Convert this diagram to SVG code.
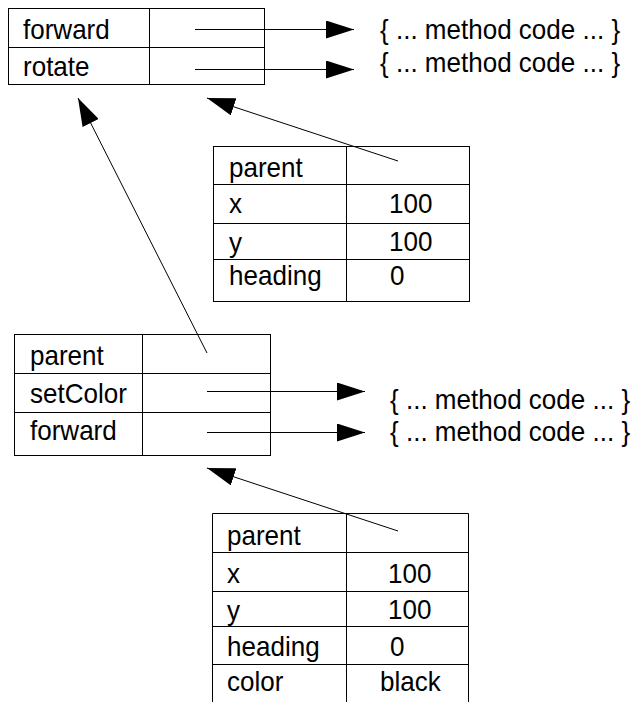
<svg xmlns="http://www.w3.org/2000/svg" width="643" height="702" viewBox="0 0 643 702">
  <defs>
    <style>
      .cell { fill: #fff; stroke: #000; stroke-width: 1; }
      .rule { stroke: #000; stroke-width: 1; fill: none; }
      .lbl { font-family: "Liberation Sans", Arial, sans-serif; font-size: 28px; fill: #000; }
      .link { stroke: #000; stroke-width: 1; fill: none; marker-end: url(#head); }
    </style>
    <marker id="head" markerUnits="userSpaceOnUse" markerWidth="28" markerHeight="18" viewBox="0 0 28 18" refX="28" refY="9" orient="auto">
      <path d="M0,0 L28,9 L0,18 Z" fill="#000"/>
    </marker>
  </defs>
  <rect width="643" height="702" fill="#fff"/>

  <!-- shared prototype: forward / rotate -->
  <g id="proto">
    <rect class="cell" x="8.5" y="8.5" width="256" height="76"/>
    <line class="rule" x1="149.5" y1="8.5" x2="149.5" y2="84.5"/>
    <line class="rule" x1="8.5" y1="47.5" x2="264.5" y2="47.5"/>
    <text class="lbl" transform="translate(23 39) scale(0.93 1)">forward</text>
    <text class="lbl" transform="translate(23 76) scale(0.93 1)">rotate</text>
  </g>

  <!-- first turtle instance -->
  <g id="turtle">
    <rect class="cell" x="213.5" y="146.5" width="256" height="155"/>
    <line class="rule" x1="346.5" y1="146.5" x2="346.5" y2="301.5"/>
    <line class="rule" x1="213.5" y1="184.5" x2="469.5" y2="184.5"/>
    <line class="rule" x1="213.5" y1="223.5" x2="469.5" y2="223.5"/>
    <line class="rule" x1="213.5" y1="259.5" x2="469.5" y2="259.5"/>
    <text class="lbl" transform="translate(229 177) scale(0.93 1)">parent</text>
    <text class="lbl" transform="translate(229 213) scale(0.93 1)">x</text>
    <text class="lbl" transform="translate(389 213) scale(0.93 1)">100</text>
    <text class="lbl" transform="translate(229 252) scale(0.93 1)">y</text>
    <text class="lbl" transform="translate(389 251) scale(0.93 1)">100</text>
    <text class="lbl" transform="translate(229 285) scale(0.93 1)">heading</text>
    <text class="lbl" transform="translate(390 285) scale(0.93 1)">0</text>
  </g>

  <!-- derived prototype: parent / setColor / forward -->
  <g id="colorProto">
    <rect class="cell" x="14.5" y="334.5" width="256" height="121"/>
    <line class="rule" x1="142.5" y1="334.5" x2="142.5" y2="455.5"/>
    <line class="rule" x1="14.5" y1="373.5" x2="270.5" y2="373.5"/>
    <line class="rule" x1="14.5" y1="412.5" x2="270.5" y2="412.5"/>
    <text class="lbl" transform="translate(30 365) scale(0.93 1)">parent</text>
    <text class="lbl" transform="translate(30 403) scale(0.93 1)">setColor</text>
    <text class="lbl" transform="translate(30 440) scale(0.93 1)">forward</text>
  </g>

  <!-- coloured turtle instance (open at the bottom) -->
  <g id="colorTurtle">
    <line class="rule" x1="212.5" y1="513.5" x2="468.5" y2="513.5"/>
    <line class="rule" x1="212.5" y1="513.5" x2="212.5" y2="702"/>
    <line class="rule" x1="346.5" y1="513.5" x2="346.5" y2="702"/>
    <line class="rule" x1="468.5" y1="513.5" x2="468.5" y2="702"/>
    <line class="rule" x1="212.5" y1="552.5" x2="468.5" y2="552.5"/>
    <line class="rule" x1="212.5" y1="591.5" x2="468.5" y2="591.5"/>
    <line class="rule" x1="212.5" y1="626.5" x2="468.5" y2="626.5"/>
    <line class="rule" x1="212.5" y1="664.5" x2="468.5" y2="664.5"/>
    <text class="lbl" transform="translate(227 545) scale(0.93 1)">parent</text>
    <text class="lbl" transform="translate(227 583) scale(0.93 1)">x</text>
    <text class="lbl" transform="translate(388 583) scale(0.93 1)">100</text>
    <text class="lbl" transform="translate(227 620) scale(0.93 1)">y</text>
    <text class="lbl" transform="translate(388 619) scale(0.93 1)">100</text>
    <text class="lbl" transform="translate(227 656) scale(0.93 1)">heading</text>
    <text class="lbl" transform="translate(390 656) scale(0.93 1)">0</text>
    <text class="lbl" transform="translate(227 691) scale(0.93 1)">color</text>
    <text class="lbl" transform="translate(380 691) scale(0.93 1)">black</text>
  </g>

  <!-- method bodies -->
  <g id="code">
    <text class="lbl" transform="translate(380 39) scale(0.93 1)">{ ... method code ... }</text>
    <text class="lbl" transform="translate(380 72) scale(0.93 1)">{ ... method code ... }</text>
    <text class="lbl" transform="translate(390 409) scale(0.93 1)">{ ... method code ... }</text>
    <text class="lbl" transform="translate(390 441) scale(0.93 1)">{ ... method code ... }</text>
  </g>

  <g id="connectors">
    <line class="link" x1="195" y1="29.5" x2="354" y2="29.5"/>
    <line class="link" x1="195" y1="69.5" x2="354" y2="69.5"/>
    <line class="link" x1="207" y1="391.5" x2="365" y2="391.5"/>
    <line class="link" x1="207" y1="432.5" x2="365" y2="432.5"/>
    <line class="link" x1="398" y1="161" x2="207" y2="98"/>
    <line class="link" x1="207" y1="353" x2="78" y2="98"/>
    <line class="link" x1="398" y1="531" x2="207" y2="468"/>
  </g>
</svg>
